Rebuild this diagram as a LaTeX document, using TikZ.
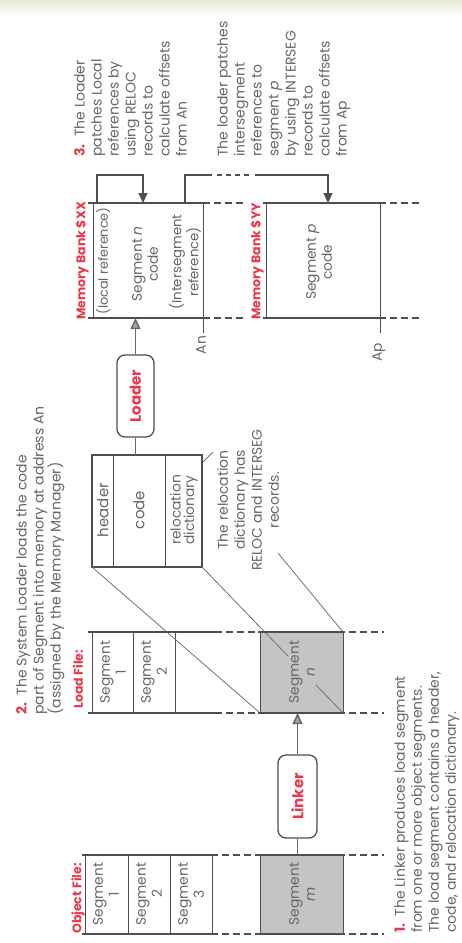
\documentclass[tikz,border=0pt]{standalone}
\usepackage{fontspec}
\setmainfont{Poppins}
\usetikzlibrary{arrows.meta}
\definecolor{txtc}{HTML}{666666}
\definecolor{linec}{HTML}{4E4E4E}
\definecolor{redc}{HTML}{E8394C}
\definecolor{grayfill}{HTML}{C4C4C4}
\definecolor{arrfill}{HTML}{A2A2A2}
\definecolor{bandc}{HTML}{E9EAD3}
\begin{document}
\begin{tikzpicture}[x=1pt,y=-1pt,
  every node/.style={inner sep=0pt, font=\fontsize{14}{17}\selectfont, text=txtc},
  txt/.style={rotate=90, align=left},
  ctxt/.style={rotate=90, align=center, font=\fontsize{13.8}{16}\selectfont},
  redlbl/.style={rotate=90, text=redc, font=\fontsize{12.5}{17}\selectfont\bfseries},
  proc/.style={rotate=90, draw=linec, line width=1.3pt, rounded corners=8pt, fill=white,
     text=redc, font=\fontsize{15}{17}\selectfont\bfseries},
  thickl/.style={draw=linec, line width=1.8pt},
  dashl/.style={draw=linec, line width=1.8pt, dash pattern=on 7pt off 4pt},
  thinl/.style={draw=linec, line width=0.9pt},
  diag/.style={draw=linec!80, line width=0.8pt},
  garrow/.style={draw=linec!85, line width=1.5pt, -{Triangle[length=11pt,width=10pt,fill=arrfill]}},
  barrow/.style={draw=linec, line width=1.1pt, -{Triangle[length=10pt,width=9pt]}},
]
\useasboundingbox (0,0) rectangle (462,943);
\shade[top color=bandc, bottom color=white] (0,0) rectangle (462,16);

% ---------- Memory banks ----------
\fill[white] (93,203) rectangle (203,318);
\draw[thinl] (93,203) -- (93,318);
\draw[thinl] (203,203) -- (203,333);
\draw[thickl] (88,203) -- (210,203);
\draw[thickl] (88,318) -- (210,318);
\draw[dashl] (214,203) -- (247,203);
\draw[dashl] (214,318) -- (247,318);

\draw[thinl] (266,203) -- (266,318);
\draw[thinl] (380,203) -- (380,333);
\draw[thickl] (263,203) -- (386,203);
\draw[thickl] (263,318) -- (386,318);
\draw[dashl] (390,203) -- (421,203);
\draw[dashl] (390,318) -- (421,318);

\node[redlbl, anchor=west] (mbx) at (82,320) {Memory Bank \$XX};
\node[redlbl, anchor=west] (mby) at (257,320) {Memory Bank \$YY};
\node[ctxt, font=\fontsize{12.8}{16}\selectfont] (locref) at (103,261) {(local reference)};
\node[ctxt] (segncode) at (145,264) {Segment \textit{n}\\code};
\node[ctxt, font=\fontsize{13.3}{16}\selectfont] (interref) at (185,262) {(Intersegment\\reference)};
\node[ctxt] (segpcode) at (319,262) {Segment \textit{p}\\code};
\node[ctxt] (an) at (201,345) {An};
\node[ctxt] (ap) at (379,352) {Ap};

% patch arrows
\coordinate (l1) at (97,203);
\coordinate (l2) at (143,203);
\draw[barrow] (l1) -- (97,175) -- (143,175) -- (l2);
\coordinate (i1) at (185,203);
\coordinate (i2) at (328,203);
\draw[thinl, line width=1.1pt] (i1) -- (185,175) -- (212,175);
\draw[thinl, line width=1.1pt, dash pattern=on 5pt off 4pt] (217,175) -- (252,175);
\draw[barrow] (255,175) -- (328,175) -- (i2);

% ---------- texts 3 ----------
\node[txt, anchor=north west] (t3) at (74,157) {\textcolor{redc}{\bfseries 3.}\ \ The Loader\\patches Local\\references by\\using RELOC\\records to\\calculate offsets\\from An};
\node[txt, anchor=north west] (t4) at (217,157) {The loader patches\\intersegment\\references to\\segment \textit{p}\\by using INTERSEG\\records to\\calculate offsets\\from Ap};

% ---------- Loader ----------
\node[proc, minimum width=82pt, minimum height=37pt] (loader) at (135.5,396) {Loader};
\coordinate (memin) at (135.5,318);
\draw[garrow] (loader.east) -- (memin);

% expanded load segment
\draw[thinl, line width=1.3pt] (92,455) rectangle (202,567);
\draw[thinl] (113,455) -- (113,567);
\draw[thinl] (165,455) -- (165,567);
\node[ctxt, font=\fontsize{15}{16}\selectfont] (hdr) at (103,510) {header};
\node[ctxt, font=\fontsize{15}{16}\selectfont] (code) at (139,510) {code};
\node[ctxt, font=\fontsize{13.8}{13.5}\selectfont] (reld) at (184,510) {relocation\\dictionary};
\coordinate (exptop) at (135.5,455);
\draw[thinl, line width=1.3pt, draw=linec!85] (loader.west) -- (exptop);
\node[ctxt, font=\fontsize{14}{17}\selectfont, anchor=north] (t5) at (217,500) {The relocation\\dictionary has\\RELOC and INTERSEG\\records.};
\draw[diag] (203,462) -- (213,452);

% ---------- text 2 ----------
\node[txt, anchor=north west] (t2) at (16,715) {\textcolor{redc}{\bfseries 2.}\ \ The System Loader loads the code\\part of Segment into memory at address An\\(assigned by the Memory Manager)};

% ---------- Load file ----------
\fill[grayfill] (260,632) rectangle (343,713);
\draw[thinl] (92,632) -- (92,713);
\draw[thinl] (133,632) -- (133,713);
\draw[thinl] (175,632) -- (175,713);
\draw[thinl] (260,632) -- (260,713);
\draw[thinl] (343,632) -- (343,713);
\draw[diag] (92,567) -- (260,713);
\draw[diag] (202,567) -- (343,713);
\draw[diag] (278,553) -- (343,632);
\draw[thickl] (88,632) -- (222,632);
\draw[thickl] (88,713) -- (222,713);
\draw[dashl] (226,632) -- (258,632);
\draw[dashl] (226,713) -- (258,713);
\draw[thickl] (258,632) -- (345,632);
\draw[thickl] (258,713) -- (345,713);
\draw[dashl] (349,632) -- (384,632);
\draw[dashl] (349,713) -- (384,713);
\node[redlbl, anchor=west] (lf) at (78,709) {Load File:};
\node[ctxt] (ls1) at (113,672) {Segment\\1};
\node[ctxt] (ls2) at (154,672) {Segment\\2};
\node[ctxt, fill=grayfill, inner sep=1pt] (lsn) at (302,672) {Segment\\\textit{n}};

% ---------- Linker ----------
\node[proc, minimum width=83pt, minimum height=39pt] (linker) at (297.5,796.5) {Linker};
\coordinate (lfin) at (297.5,713);
\coordinate (oftop) at (297.5,855);
\draw[garrow] (linker.east) -- (lfin);
\draw[thinl, line width=1.3pt, draw=linec!85] (linker.west) -- (oftop);

% ---------- Object file ----------
\fill[grayfill] (260,855) rectangle (343,934);
\draw[thinl] (85,855) -- (85,934);
\draw[thinl] (128,855) -- (128,934);
\draw[thinl] (170,855) -- (170,934);
\draw[thinl] (212,855) -- (212,934);
\draw[thinl] (260,855) -- (260,934);
\draw[thinl] (343,855) -- (343,934);
\draw[thickl] (82,855) -- (218,855);
\draw[thickl] (82,934) -- (218,934);
\draw[dashl] (222,855) -- (258,855);
\draw[dashl] (222,934) -- (258,934);
\draw[thickl] (258,855) -- (345,855);
\draw[thickl] (258,934) -- (345,934);
\draw[dashl] (349,855) -- (384,855);
\draw[dashl] (349,934) -- (384,934);
\node[redlbl, anchor=west] (of) at (78,934) {Object File:};
\node[ctxt] (os1) at (106,894) {Segment\\1};
\node[ctxt] (os2) at (149,894) {Segment\\2};
\node[ctxt] (os3) at (191,894) {Segment\\3};
\node[ctxt] (osm) at (302,894) {Segment\\\textit{m}};

% ---------- text 1 ----------
\node[txt, anchor=north west] (t1) at (394,933) {\textcolor{redc}{\bfseries 1.}\ \ The Linker produces load segment\\from one or more object segments.\\The load segment contains a header,\\code, and relocation dictionary.};
\end{tikzpicture}
\end{document}
